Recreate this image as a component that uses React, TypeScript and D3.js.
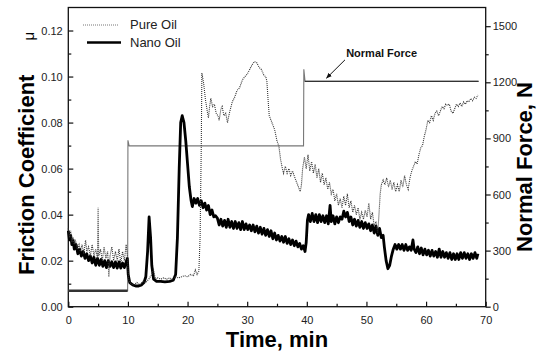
import { useEffect, useRef } from 'react';
import * as d3 from 'd3';

// friction coefficient, [time min, mu]
const PURE_OIL: [number, number][] = [
  [0, 0.034], [0.2, 0.03], [0.4, 0.033], [0.6, 0.028], [0.8, 0.03], [1, 0.027], [1.2, 0.029], [1.5, 0.025],
  [1.8, 0.027], [2, 0.024], [2.3, 0.027], [2.6, 0.023], [2.9, 0.029], [3.1, 0.024], [3.4, 0.026], [3.7, 0.022],
  [4, 0.027], [4.3, 0.022], [4.6, 0.025], [4.9, 0.021], [5, 0.043], [5.1, 0.022], [5.4, 0.025], [5.7, 0.02],
  [6, 0.026], [6.3, 0.021], [6.6, 0.024], [6.8, 0.013], [7, 0.022], [7.3, 0.026], [7.6, 0.02], [7.9, 0.024],
  [8.2, 0.02], [8.5, 0.025], [8.8, 0.019], [9.1, 0.024], [9.4, 0.02], [9.7, 0.027], [9.9, 0.022],
  [10.1, 0.012], [10.5, 0.01], [11, 0.0095], [11.5, 0.0105], [12, 0.0095], [12.5, 0.011], [13, 0.0105],
  [13.5, 0.012], [14, 0.014], [14.3, 0.016], [14.6, 0.012], [15, 0.0125], [15.5, 0.012], [16, 0.0125],
  [16.5, 0.012], [17, 0.0125], [17.5, 0.012], [18, 0.013], [18.5, 0.0125], [19, 0.013], [19.5, 0.0135],
  [20, 0.013], [20.5, 0.014], [21, 0.0135], [21.3, 0.016], [21.6, 0.014], [21.9, 0.0155], [22.1, 0.03],
  [22.3, 0.07], [22.4, 0.1015], [22.7, 0.097], [23, 0.09], [23.3, 0.085], [23.5, 0.082], [23.7, 0.087],
  [23.9, 0.0905], [24.2, 0.087], [24.5, 0.088], [24.8, 0.084], [25.1, 0.083], [25.3, 0.081], [25.6, 0.086],
  [25.8, 0.087], [26.1, 0.083], [26.4, 0.084], [26.7, 0.08], [27, 0.084], [27.3, 0.087], [27.5, 0.089],
  [27.9, 0.091], [28.3, 0.094], [28.7, 0.095], [29.2, 0.0985], [29.6, 0.1], [30, 0.101], [30.4, 0.103],
  [30.8, 0.105], [31.2, 0.1065], [31.6, 0.106], [32, 0.104], [32.4, 0.103], [32.8, 0.1005], [33.1, 0.1],
  [33.3, 0.098], [33.5, 0.09], [33.7, 0.083], [34, 0.081], [34.3, 0.079], [34.6, 0.077], [35, 0.072],
  [35.3, 0.07], [35.6, 0.064], [35.9, 0.06], [36.1, 0.058], [36.4, 0.061], [36.7, 0.058], [37, 0.06],
  [37.3, 0.057], [37.6, 0.059], [38, 0.056], [38.3, 0.054], [38.6, 0.052], [38.9, 0.05], [39.1, 0.053],
  [39.3, 0.06], [39.6, 0.065], [39.9, 0.06], [40.2, 0.066], [40.5, 0.059], [40.8, 0.063], [41.1, 0.058],
  [41.4, 0.062], [41.7, 0.056], [42, 0.06], [42.3, 0.054], [42.6, 0.058], [42.9, 0.053], [43.2, 0.056],
  [43.5, 0.051], [43.8, 0.054], [44.1, 0.049], [44.4, 0.051], [44.7, 0.046], [45, 0.049], [45.3, 0.044],
  [45.6, 0.047], [45.9, 0.043], [46.2, 0.048], [46.5, 0.044], [46.8, 0.049], [47.1, 0.043], [47.4, 0.046],
  [47.7, 0.041], [48, 0.044], [48.3, 0.04], [48.6, 0.043], [48.9, 0.038], [49.2, 0.041], [49.5, 0.038],
  [49.8, 0.042], [50.1, 0.039], [50.4, 0.045], [50.7, 0.038], [51, 0.041], [51.3, 0.035], [51.6, 0.037],
  [51.9, 0.032], [52.1, 0.04], [52.3, 0.049], [52.5, 0.053], [52.8, 0.055], [53.1, 0.053], [53.4, 0.056],
  [53.7, 0.052], [54, 0.055], [54.3, 0.051], [54.6, 0.054], [54.9, 0.05], [55.2, 0.053], [55.5, 0.05],
  [55.8, 0.055], [56.1, 0.052], [56.4, 0.057], [56.7, 0.053], [57, 0.051], [57.3, 0.056], [57.6, 0.059],
  [57.9, 0.061], [58.2, 0.063], [58.5, 0.062], [58.8, 0.066], [59.1, 0.069], [59.4, 0.07], [59.7, 0.074],
  [60, 0.077], [60.3, 0.081], [60.6, 0.08], [60.9, 0.083], [61.2, 0.081], [61.5, 0.084], [61.8, 0.085],
  [62.1, 0.083], [62.4, 0.085], [62.7, 0.087], [63, 0.086], [63.3, 0.088], [63.6, 0.0875], [63.9, 0.088],
  [64.2, 0.085], [64.5, 0.084], [64.8, 0.086], [65.1, 0.088], [65.4, 0.087], [65.7, 0.0885], [66, 0.087],
  [66.3, 0.089], [66.6, 0.088], [66.9, 0.0895], [67.2, 0.089], [67.5, 0.0905], [67.8, 0.0895], [68.1, 0.091],
  [68.4, 0.0905], [68.7, 0.092],
];

const NANO_OIL: [number, number][] = [
  [0, 0.033], [0.2, 0.029], [0.4, 0.031], [0.6, 0.027], [0.8, 0.029], [1, 0.025], [1.3, 0.027], [1.6, 0.023],
  [1.9, 0.025], [2.2, 0.022], [2.5, 0.024], [2.8, 0.021], [3.1, 0.023], [3.4, 0.02], [3.7, 0.022], [4, 0.019],
  [4.3, 0.0215], [4.6, 0.018], [4.9, 0.021], [5.2, 0.018], [5.5, 0.0205], [5.8, 0.0175], [6.1, 0.02],
  [6.4, 0.017], [6.7, 0.02], [7, 0.0175], [7.3, 0.0195], [7.6, 0.017], [7.9, 0.0195], [8.2, 0.0168],
  [8.5, 0.0195], [8.8, 0.0168], [9.1, 0.019], [9.4, 0.017], [9.7, 0.0195], [9.9, 0.021], [10.05, 0.014],
  [10.3, 0.0105], [10.8, 0.0095], [11.3, 0.009], [11.8, 0.009], [12.3, 0.0095], [12.7, 0.0105], [13, 0.013],
  [13.3, 0.024], [13.55, 0.039], [13.8, 0.03], [14, 0.018], [14.3, 0.012], [14.8, 0.011], [15.5, 0.011],
  [16.2, 0.0108], [17, 0.011], [17.6, 0.0115], [18, 0.014], [18.3, 0.03], [18.6, 0.06], [18.85, 0.08],
  [19.1, 0.083], [19.4, 0.08], [19.7, 0.072], [20, 0.062], [20.3, 0.052], [20.6, 0.046], [20.8, 0.0435],
  [21.1, 0.047], [21.4, 0.045], [21.7, 0.047], [22, 0.044], [22.3, 0.046], [22.6, 0.043], [22.9, 0.045],
  [23.2, 0.042], [23.5, 0.044], [23.8, 0.04], [24.1, 0.042], [24.4, 0.039], [24.7, 0.0395], [25, 0.0385],
  [25.3, 0.0355], [25.6, 0.038], [25.9, 0.035], [26.2, 0.0375], [26.5, 0.0345], [26.8, 0.038], [27.1, 0.0345],
  [27.4, 0.037], [27.7, 0.034], [28, 0.037], [28.3, 0.034], [28.6, 0.0365], [28.9, 0.0335], [29.2, 0.037],
  [29.5, 0.0335], [29.8, 0.036], [30.1, 0.0335], [30.4, 0.0355], [30.7, 0.033], [31, 0.0355], [31.3, 0.0325],
  [31.6, 0.035], [31.9, 0.032], [32.2, 0.0345], [32.5, 0.0315], [32.8, 0.034], [33.1, 0.031], [33.4, 0.0335],
  [33.7, 0.0305], [34, 0.033], [34.3, 0.0295], [34.6, 0.032], [34.9, 0.029], [35.2, 0.031], [35.5, 0.0285],
  [35.8, 0.0305], [36.1, 0.028], [36.4, 0.0305], [36.7, 0.0275], [37, 0.0295], [37.3, 0.027], [37.6, 0.029],
  [37.9, 0.0265], [38.2, 0.0285], [38.5, 0.026], [38.8, 0.0275], [39.1, 0.025], [39.4, 0.0265], [39.7, 0.024],
  [39.9, 0.028], [40.1, 0.0375], [40.3, 0.04], [40.6, 0.037], [40.9, 0.0405], [41.2, 0.037], [41.5, 0.04],
  [41.8, 0.0365], [42.1, 0.04], [42.4, 0.037], [42.7, 0.0395], [43, 0.0365], [43.3, 0.0395], [43.6, 0.036],
  [43.9, 0.044], [44.1, 0.037], [44.4, 0.0395], [44.7, 0.036], [45, 0.039], [45.3, 0.0365], [45.6, 0.039],
  [45.9, 0.038], [46.2, 0.0415], [46.5, 0.039], [46.8, 0.041], [47.1, 0.037], [47.4, 0.039], [47.7, 0.0355],
  [48, 0.038], [48.3, 0.035], [48.6, 0.0375], [48.9, 0.0345], [49.2, 0.037], [49.5, 0.034], [49.8, 0.0365],
  [50.1, 0.034], [50.4, 0.036], [50.7, 0.033], [51, 0.0355], [51.3, 0.032], [51.6, 0.035], [51.9, 0.031],
  [52.2, 0.034], [52.5, 0.03], [52.8, 0.031], [53, 0.026], [53.3, 0.02], [53.6, 0.0165], [53.9, 0.018],
  [54.2, 0.022], [54.5, 0.025], [54.8, 0.027], [55.1, 0.025], [55.4, 0.027], [55.7, 0.025], [56, 0.027],
  [56.3, 0.0245], [56.6, 0.027], [56.9, 0.0245], [57.2, 0.026], [57.5, 0.0245], [57.8, 0.029], [58, 0.025],
  [58.3, 0.0235], [58.6, 0.026], [58.9, 0.023], [59.2, 0.0255], [59.5, 0.0225], [59.8, 0.025], [60.1, 0.0225],
  [60.4, 0.0245], [60.7, 0.022], [61, 0.0245], [61.3, 0.022], [61.6, 0.024], [61.9, 0.0215], [62.2, 0.025],
  [62.5, 0.0215], [62.8, 0.024], [63.1, 0.0215], [63.4, 0.0235], [63.7, 0.021], [64, 0.0235], [64.3, 0.0205],
  [64.6, 0.023], [64.9, 0.0205], [65.2, 0.023], [65.5, 0.0205], [65.8, 0.0235], [66.1, 0.021], [66.4, 0.0235],
  [66.7, 0.021], [67, 0.023], [67.3, 0.0205], [67.6, 0.023], [67.9, 0.021], [68.2, 0.0235], [68.5, 0.021],
  [68.7, 0.023],
];

// normal force, [time min, N]
const NORMAL_FORCE: [number, number][] = [
  [0, 85], [9.95, 85], [10, 890], [10.2, 860], [39.45, 860], [39.5, 1270], [39.7, 1205], [68.8, 1205],
];

const TIME_TICKS = [0, 10, 20, 30, 40, 50, 60, 70];
const MU_TICKS = [0, 0.02, 0.04, 0.06, 0.08, 0.1, 0.12];
const FORCE_TICKS = [0, 300, 600, 900, 1200, 1500];

const FONT = "'Liberation Sans', Arial, Helvetica, sans-serif";

const App = () => {
  const ref = useRef<SVGSVGElement>(null);

  useEffect(() => {
    if (!ref.current) return;
    const width = 541;
    const height = 351;
    const m = { left: 68.3, right: 485.7, top: 7.5, bottom: 306.7 };

    const svg = d3.select(ref.current);
    svg.selectAll('*').remove();
    svg.attr('width', width).attr('height', height);

    const x = d3.scaleLinear().domain([0, 70]).range([m.left, m.right]);
    const yMu = d3.scaleLinear().domain([0, 0.13]).range([m.bottom, m.top]);
    const yN = d3.scaleLinear().domain([0, 1600]).range([m.bottom, m.top]);

    const styleAxis = (g: any) => {
      g.select('.domain').remove();
      g.selectAll('line').attr('stroke', '#111').attr('stroke-width', 1.2);
      g.selectAll('text').attr('font-family', FONT).attr('font-size', 11).attr('fill', '#222');
    };

    // minor ticks halfway between the labelled ones
    const minor = (ticks: number[]) => ticks.slice(0, -1).map((t, i) => (t + ticks[i + 1]) / 2);

    svg.append('g').attr('transform', `translate(${m.left},0)`)
      .call(d3.axisLeft(yMu).tickValues(minor(MU_TICKS)).tickSizeInner(-3).tickSizeOuter(0).tickFormat(() => ''))
      .call(styleAxis);
    svg.append('g').attr('transform', `translate(${m.left},0)`)
      .call(d3.axisLeft(yMu).tickValues(MU_TICKS).tickSizeInner(-5).tickSizeOuter(0).tickPadding(5.6).tickFormat(d3.format('.2f')))
      .call(styleAxis);

    svg.append('g').attr('transform', `translate(${m.right},0)`)
      .call(d3.axisRight(yN).tickValues(minor(FORCE_TICKS)).tickSizeInner(3).tickSizeOuter(0).tickFormat(() => ''))
      .call(styleAxis);
    svg.append('g').attr('transform', `translate(${m.right},0)`)
      .call(d3.axisRight(yN).tickValues(FORCE_TICKS).tickSizeInner(5).tickSizeOuter(0).tickPadding(2).tickFormat(d3.format('d')))
      .call(styleAxis);

    svg.append('g').attr('transform', `translate(0,${m.bottom})`)
      .call(d3.axisBottom(x).tickValues(minor(TIME_TICKS)).tickSizeInner(-3).tickSizeOuter(0).tickFormat(() => ''))
      .call(styleAxis);
    svg.append('g').attr('transform', `translate(0,${m.bottom})`)
      .call(d3.axisBottom(x).tickValues(TIME_TICKS).tickSizeInner(-5).tickSizeOuter(0).tickPadding(9.5).tickFormat(d3.format('d')))
      .call(styleAxis);

    // frame
    svg.append('rect')
      .attr('x', m.left).attr('y', m.top)
      .attr('width', m.right - m.left).attr('height', m.bottom - m.top)
      .attr('fill', 'none').attr('stroke', '#111').attr('stroke-width', 1.3);

    const lineMu = d3.line<[number, number]>().x(d => x(d[0])).y(d => yMu(d[1]));
    const lineN = d3.line<[number, number]>().x(d => x(d[0])).y(d => yN(d[1]));

    svg.append('path').attr('d', lineN(NORMAL_FORCE))
      .attr('fill', 'none').attr('stroke', '#777').attr('stroke-width', 1.1);
    svg.append('path').attr('d', lineN(NORMAL_FORCE.filter(d => d[0] < 9.96)))
      .attr('fill', 'none').attr('stroke', '#333').attr('stroke-width', 2.6);
    svg.append('path').attr('d', lineN(NORMAL_FORCE.filter(d => d[0] > 39.6)))
      .attr('fill', 'none').attr('stroke', '#333').attr('stroke-width', 1.4);

    svg.append('path').attr('d', lineMu(NANO_OIL))
      .attr('fill', 'none').attr('stroke', '#000').attr('stroke-width', 2.8).attr('stroke-linejoin', 'round');
    svg.append('path').attr('d', lineMu(PURE_OIL))
      .attr('fill', 'none').attr('stroke', '#333').attr('stroke-width', 1.1).attr('stroke-dasharray', '1,1');

    // legend
    const lg = svg.append('g').attr('font-family', FONT).attr('font-size', 13).attr('fill', '#222');
    lg.append('line').attr('x1', 83).attr('x2', 118).attr('y1', 25).attr('y2', 25)
      .attr('stroke', '#777').attr('stroke-width', 1).attr('stroke-dasharray', '1,1');
    lg.append('text').attr('x', 130).attr('y', 29).text('Pure Oil');
    lg.append('line').attr('x1', 87).attr('x2', 121).attr('y1', 42.5).attr('y2', 42.5)
      .attr('stroke', '#000').attr('stroke-width', 2.3);
    lg.append('text').attr('x', 130).attr('y', 47).text('Nano Oil');

    // annotation
    svg.append('defs').append('marker')
      .attr('id', 'arr').attr('viewBox', '0 0 10 10').attr('refX', 9).attr('refY', 5)
      .attr('markerWidth', 6).attr('markerHeight', 6).attr('orient', 'auto')
      .append('path').attr('d', 'M0,1 L10,5 L0,9 Z').attr('fill', '#111');
    svg.append('line')
      .attr('x1', x(46.4)).attr('y1', yN(1320))
      .attr('x2', x(43.3)).attr('y2', yN(1222))
      .attr('stroke', '#111').attr('stroke-width', 1).attr('marker-end', 'url(#arr)');
    svg.append('text').attr('x', x(46.6)).attr('y', 56.5)
      .attr('font-family', FONT).attr('font-size', 11).attr('font-weight', 'bold').attr('fill', '#111')
      .text('Normal Force');

    // axis titles
    svg.append('text')
      .attr('x', (m.left + m.right) / 2).attr('y', 347)
      .attr('text-anchor', 'middle').attr('font-family', FONT).attr('font-size', 22).attr('font-weight', 'bold')
      .text('Time, min');

    const yt = svg.append('text')
      .attr('transform', 'translate(34,275) rotate(-90)')
      .attr('font-family', FONT).attr('font-size', 22).attr('font-weight', 'bold');
    yt.append('tspan').text('Friction Coefficient');
    yt.append('tspan').attr('dx', 34).attr('font-size', 15).attr('font-weight', 'normal').text('μ');

    svg.append('text')
      .attr('transform', 'translate(532,167) rotate(-90)')
      .attr('text-anchor', 'middle').attr('font-family', FONT).attr('font-size', 22).attr('font-weight', 'bold')
      .text('Normal Force, N');
  }, []);

  return <svg ref={ref} style={{ position: 'absolute', left: 0, top: 0, background: '#fff' }} />;
};

export default App;
